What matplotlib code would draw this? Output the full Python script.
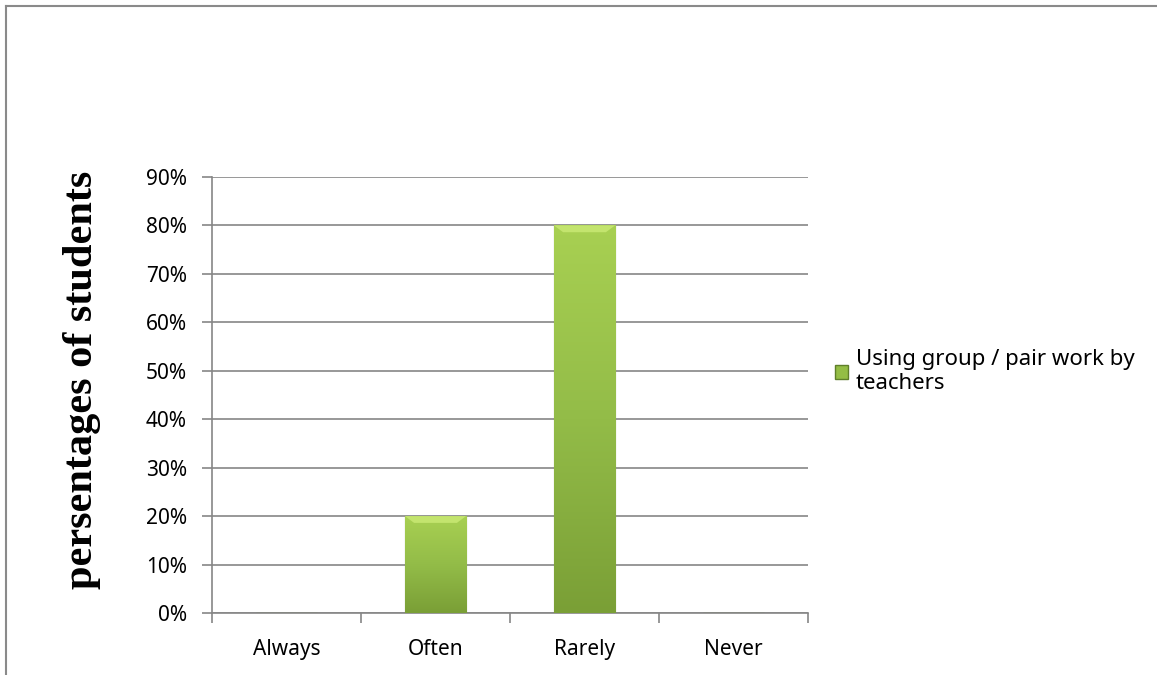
import numpy as np
import matplotlib
matplotlib.use("Agg")
import matplotlib.pyplot as plt
from matplotlib.colors import LinearSegmentedColormap
from matplotlib.lines import Line2D
from matplotlib.ticker import PercentFormatter

# Data
categories = ['Always', 'Often', 'Rarely', 'Never']
values = [0.0, 0.20, 0.80, 0.0]
series_name = 'Using group / pair work by\nteachers'
yticks = [0.0, 0.1, 0.2, 0.3, 0.4, 0.5, 0.6, 0.7, 0.8, 0.9]

fig = plt.figure(figsize=(11.57, 6.75), dpi=100)
ax = fig.add_axes([212 / 1157, 1 - 613 / 675, 596 / 1157, 436 / 675])

x = np.arange(len(categories))
bars = ax.bar(x, values, width=0.41, color='#94bd45', edgecolor='#5f7f2a',
              linewidth=0.8, zorder=3)

# vertical gradient inside each bar
cmap = LinearSegmentedColormap.from_list('g', ['#7a9f36', '#93bc48', '#a8d052'])
grad = np.linspace(0, 1, 256).reshape(-1, 1)
for b in bars:
    if b.get_height() <= 0:
        continue
    x0, w, h = b.get_x(), b.get_width(), b.get_height()
    im = ax.imshow(grad, cmap=cmap, origin='lower', aspect='auto',
                   extent=[x0, x0 + w, 0, h], zorder=3.5)
    im.set_clip_path(b)
    # light top bevel
    ax.fill([x0, x0 + w, x0 + w * 0.85, x0 + w * 0.15],
            [h, h, h - 0.014, h - 0.014], color='#c3e46e', zorder=4, lw=0)

ax.set_xlim(-0.5, 3.5)
ax.set_ylim(0, 0.9)
ax.set_yticks(yticks)
ax.yaxis.set_major_formatter(PercentFormatter(1.0, decimals=0))
ax.set_xticks(x)
ax.set_xticklabels(categories)
ax.set_xticks([-0.5, 0.5, 1.5, 2.5, 3.5], minor=True)
ax.tick_params(axis='x', which='major', length=0, pad=19)
ax.tick_params(axis='x', which='minor', length=7, color='#868686', width=1.2)
ax.tick_params(axis='y', length=7, color='#868686', width=1.2, pad=11)
ax.tick_params(labelsize=15)
for lab in ax.get_xticklabels() + ax.get_yticklabels():
    lab.set_fontfamily('Noto Sans')

ax.grid(axis='y', color='#868686', linewidth=1.2, zorder=0)
ax.set_axisbelow(True)
for s in ['top', 'right']:
    ax.spines[s].set_visible(False)
for s in ['left', 'bottom']:
    ax.spines[s].set_color('#868686')
    ax.spines[s].set_linewidth(1.2)

fig.text(82 / 1157, 1 - 380 / 675, 'persentages of students', rotation=90,
         ha='center', va='center', fontsize=30.5, fontweight='bold',
         family='Liberation Serif')

# legend
leg_handle = plt.Rectangle((0, 0), 1, 1, facecolor='#94bd45', edgecolor='#5f7f2a')
leg = fig.legend([leg_handle], [series_name], loc='upper left',
                 bbox_to_anchor=(826 / 1157, 1 - 340 / 675), frameon=False,
                 prop={'family': 'Noto Sans', 'size': 16}, handlelength=0.6,
                 handleheight=0.6, handletextpad=0.35, borderaxespad=0)

# outer chart border (top and left)
fig.add_artist(Line2D([6 / 1157, 1], [1 - 6 / 675, 1 - 6 / 675], color='#8a8a8a', lw=1.5))
fig.add_artist(Line2D([6 / 1157, 6 / 1157], [0, 1 - 6 / 675], color='#8a8a8a', lw=1.5))

fig.savefig('out.png', dpi=100)
